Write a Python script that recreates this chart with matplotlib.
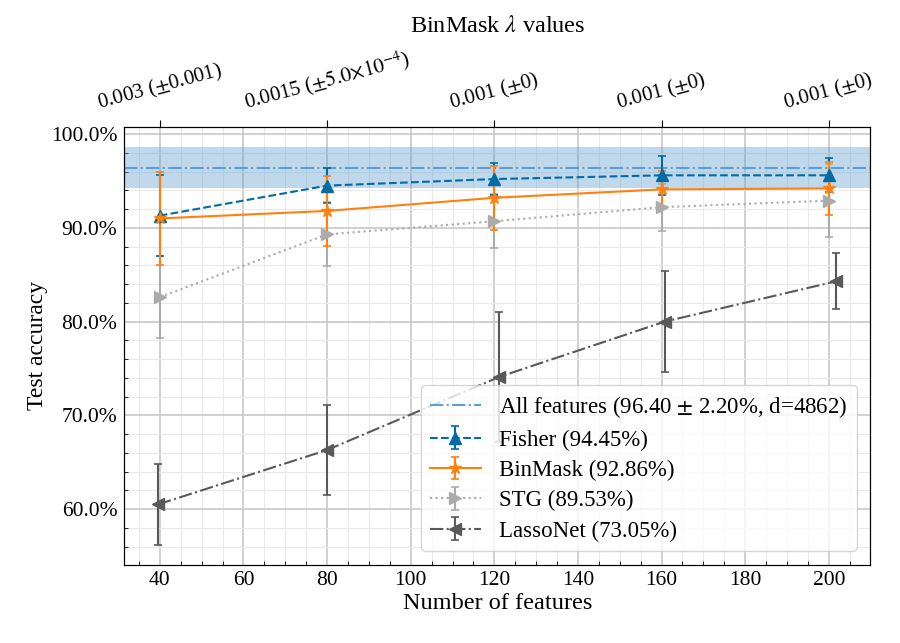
import matplotlib
matplotlib.use("Agg")
import matplotlib.pyplot as plt
from matplotlib.ticker import AutoMinorLocator, PercentFormatter

# number of selected features (x axis)
n_features = [40, 80, 120, 160, 200]
# LassoNet does not hit the exact budget, so its points sit slightly off
lassonet_features = [39.6, 80.0, 121.2, 160.8, 201.8]

fisher_mean = [91.3, 94.5, 95.2, 95.6, 95.6]
fisher_std = [4.3, 1.9, 1.7, 2.1, 1.8]
binmask_mean = [91.0, 91.8, 93.2, 94.1, 94.2]
binmask_std = [5.0, 3.7, 3.4, 2.0, 2.8]
stg_mean = [82.6, 89.3, 90.7, 92.2, 92.9]
stg_std = [4.4, 3.4, 2.9, 2.5, 3.9]
lassonet_mean = [60.5, 66.3, 74.1, 80.0, 84.3]
lassonet_std = [4.3, 4.8, 6.9, 5.4, 3.0]

avg_acc = {"Fisher": 94.45, "BinMask": 92.86, "STG": 89.53, "LassoNet": 73.05}

all_mean = 96.40
all_std = 2.20
n_all = 4862

lambda_labels = [
    r"0.003 ($\pm$0.001)",
    r"0.0015 ($\pm5.0{\times}10^{-4}$)",
    r"0.001 ($\pm$0)",
    r"0.001 ($\pm$0)",
    r"0.001 ($\pm$0)",
]

BLUE = "#006BA4"
ORANGE = "#FF800E"
LGREY = "#ABABAB"
DGREY = "#595959"
LBLUE = "#5F9ED1"

plt.rcParams["font.family"] = ["Liberation Serif", "DejaVu Serif"]
plt.rcParams["mathtext.fontset"] = "stix"
plt.rcParams["font.size"] = 16

fig = plt.figure(figsize=(9, 6.43), dpi=100)
ax = fig.add_axes([0.138, 0.122, 0.829, 0.680])

ax.axhspan(all_mean - all_std, all_mean + all_std, color=LBLUE, alpha=0.4, lw=0, zorder=1)
h_all = ax.axhline(all_mean, color=LBLUE, ls="-.", lw=1.5, zorder=2,
                   label=r"All features (%.2f $\pm$ %.2f%%, d=%d)" % (all_mean, all_std, n_all))

ebkw = dict(capsize=3, elinewidth=1.5, capthick=1.2, lw=1.5, ms=9, zorder=3)
h_stg = ax.errorbar(n_features, stg_mean, yerr=stg_std, color=LGREY, ls=":", marker=">",
                    label="STG (%.2f%%)" % avg_acc["STG"], **ebkw)
h_lasso = ax.errorbar(lassonet_features, lassonet_mean, yerr=lassonet_std, color=DGREY, ls="-.",
                      marker="<", label="LassoNet (%.2f%%)" % avg_acc["LassoNet"], **ebkw)
h_fisher = ax.errorbar(n_features, fisher_mean, yerr=fisher_std, color=BLUE, ls="--", marker="^",
                       label="Fisher (%.2f%%)" % avg_acc["Fisher"], **ebkw)
h_bin = ax.errorbar(n_features, binmask_mean, yerr=binmask_std, color=ORANGE, ls="-", marker="*",
                    label="BinMask (%.2f%%)" % avg_acc["BinMask"], **ebkw)

ax.set_xticks(range(40, 201, 20))
ax.xaxis.set_minor_locator(AutoMinorLocator(4))
ax.yaxis.set_minor_locator(AutoMinorLocator(5))
ax.yaxis.set_major_formatter(PercentFormatter(decimals=1))
ax.tick_params(which="both", direction="in", labelsize=15.5)
ax.tick_params(which="major", length=0, pad=5)
ax.tick_params(which="minor", length=3)
ax.grid(which="major", color="#c4c4c4", lw=1.1)
ax.grid(which="minor", color="#e9e9e9", lw=0.8)
ax.set_axisbelow(True)

ax.set_xlabel("Number of features", fontsize=17.5, labelpad=2)
ax.set_ylabel("Test accuracy", fontsize=17, labelpad=2)

handles = [h_all, h_fisher, h_bin, h_stg, h_lasso]
ax.legend(handles, [h.get_label() for h in handles],
          loc="lower right", fontsize=16.5, framealpha=0.8, handlelength=2.2,
          labelspacing=0.4, borderaxespad=0.6)

ax2 = ax.twiny()
ax2.set_xlim(ax.get_xlim())
ax2.set_xticks(n_features)
ax2.set_xticklabels(lambda_labels, rotation=15, fontsize=15)
ax2.tick_params(direction="out", length=5, pad=4)
ax2.set_xlabel(r"BinMask $\lambda$ values", fontsize=17.5, labelpad=10)

fig.savefig("out.png", dpi=100)
